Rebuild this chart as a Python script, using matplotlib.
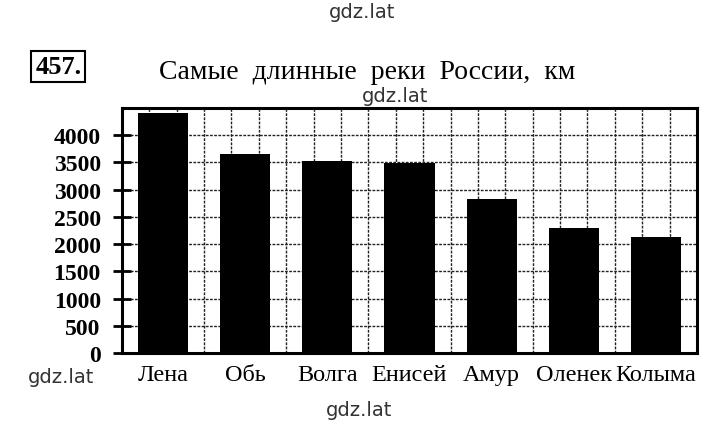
import numpy as np
import matplotlib.pyplot as plt

plt.rc("font", family="Liberation Serif", size=14)

rivers = ["Лена", "Обь", "Волга", "Енисей", "Амур", "Оленек", "Колыма"]
lengths = [4400, 3650, 3530, 3487, 2824, 2292, 2129]
yticks = [0, 500, 1000, 1500, 2000, 2500, 3000, 3500, 4000]

fig = plt.figure(figsize=(7.2, 4.27), dpi=100)
ax = fig.add_axes([0.1694, 0.1710, 0.7986, 0.5738])

x = np.arange(len(rivers))
ax.bar(x, lengths, width=0.61, color="black", zorder=3)

ax.set_xlim(-0.5, 6.5)
ax.set_ylim(0, 4500)

# grid paper behind the bars: square cells, 1/3 unit by 500 km
gridstyle = dict(color="#222222", lw=1.0, ls=(0, (2, 1)), zorder=1)
for gx in np.arange(-0.5, 6.5, 1/3)[1:]:
    ax.axvline(gx, **gridstyle)
for gy in np.arange(500, 4500, 500):
    ax.axhline(gy, **gridstyle)

ax.set_yticks(yticks)
ax.set_yticklabels([str(v) for v in yticks], fontweight="bold", fontsize=17)
ax.tick_params(axis="y", direction="inout", length=12.5, width=2, pad=9)
ax.set_xticks(x)
ax.set_xticklabels(rivers, fontsize=17.5)
ax.tick_params(axis="x", length=0, pad=8)

for s in ["left", "right", "top", "bottom"]:
    ax.spines[s].set_linewidth(2.2)

# exercise number in a box
fig.text(0.081, 0.842, "457.", fontsize=19, fontweight="bold", ha="center", va="center",
         bbox=dict(boxstyle="square,pad=0.15", fc="white", ec="black", lw=1.5))
fig.text(0.510, 0.83, "Самые  длинные  реки  России,  км", fontsize=20, ha="center", va="center")

# watermarks
wm = dict(family="DejaVu Sans", fontsize=14, color="#333333", ha="center", va="center")
fig.text(0.503, 0.97, "gdz.lat", **wm)
fig.text(0.549, 0.773, "gdz.lat", **wm)
fig.text(0.085, 0.117, "gdz.lat", **wm)
fig.text(0.499, 0.038, "gdz.lat", **wm)

fig.savefig("out.png", dpi=100)
